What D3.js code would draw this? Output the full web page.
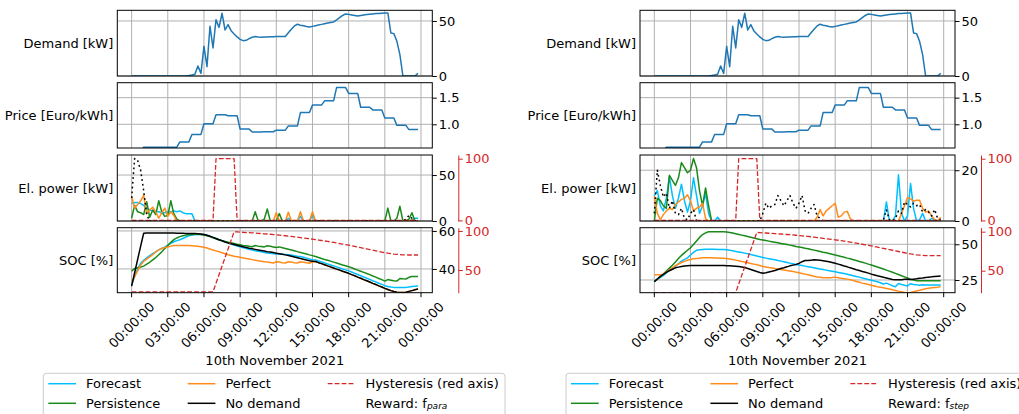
<!DOCTYPE html>
<html><head><meta charset="utf-8">
<script src="https://cdn.jsdelivr.net/npm/d3@7"></script>
<style>body{margin:0;background:#fff;overflow:hidden} text{font-family:"DejaVu Sans",sans-serif}</style>
</head><body><script>
// ---------- time axis ----------
const timeTickHours = [0,3,6,9,12,15,18,21,24];
const timeTickLabels = ['00:00:00','03:00:00','06:00:00','09:00:00','12:00:00','15:00:00','18:00:00','21:00:00','00:00:00'];
const dateLabel = '10th November 2021';

// ---------- shared series (15 min steps, 96 values) ----------
const demand = [
 0,0,0,0,0,0,0,0,0,0,0,0,
 0,0,0,0,0,0,0.2,0.5,0.9,1.6,9.1,2.4,
 27,8.5,45.2,25.5,51.2,44.2,57,41.8,46.7,41.2,38.2,35.5,
 33.3,32.1,32.4,33.9,35.2,35.8,35.4,35.3,35.4,35.5,35.6,35.7,
 35.8,35.8,35.8,35.9,39.3,42.5,45.5,47,46.2,45.6,45,44.5,
 45.1,45.7,46.3,46.9,47.5,48.1,48.6,49.1,51,53,55,56.4,
 56,55.5,55,54.5,55,55.4,55.8,56.1,56.4,56.7,56.9,57.1,
 57.2,57.3,39.1,38.5,31.5,19.4,0,0,0,0,0,2.4];

const price = [
 0.51,0.51,0.51,0.51, 0.57,0.57,0.57,0.57,
 0.57,0.57,0.57,0.57, 0.57,0.57,0.57,0.57,
 0.67,0.67,0.67,0.67, 0.81,0.81,0.81,0.81,
 1.01,1.01,1.01,1.01, 1.18,1.18,1.18,1.18,
 1.16,1.16,1.16,1.16, 0.91,0.91,0.91,0.91,
 0.855,0.855,0.855,0.855, 0.86,0.86,0.86,0.86,
 0.89,0.89,0.89,0.89, 0.97,0.97,0.97,0.97,
 1.22,1.22,1.22,1.22, 1.36,1.36,1.36,1.36,
 1.44,1.44,1.44,1.44, 1.69,1.69,1.69,1.69,
 1.58,1.58,1.58,1.58, 1.32,1.32,1.32,1.32,
 1.27,1.27,1.27,1.27, 1.12,1.12,1.12,1.12,
 0.98,0.98,0.98,0.98, 0.90,0.90,0.90,0.90];

const hysteresisPower = [
 0,0,0,0,0,0,0,0,0,0,0,0,
 0,0,0,0,0,0,0,0,0,0,0,0,
 0,0,0,0,100,100,100,100,100,100,100,0,
 0,0,0,0,0,0,0,0,0,0,0,0,
 0,0,0,0,0,0,0,0,0,0,0,0,
 0,0,0,0,0,0,0,0,0,0,0,0,
 0,0,0,0,0,0,0,0,0,0,0,0,
 0,0,0,0,0,0,0,0,0,0,0,0];

const hysteresisSOC = [
 22,22,22,22,22,22,22,22,22,22,22,22,
 22,22,22,22,22,22,22,22,22,22,22,22,
 22,22,22,22,33,44,55,66,77,88,99,98.8,
 98.5,98.3,98,97.8,97.6,97.3,97,96.7,96.4,96.1,95.8,95.4,
 95,94.6,94.2,93.9,93.5,93,92.5,92,91.5,91,90.5,90,
 89.5,89,88.4,87.8,87.2,86.6,86,85.3,84.6,83.9,83.2,82.5,
 81.8,81,80.2,79.4,78.6,77.8,77,76.2,75.4,74.6,73.8,73,
 72.2,71.5,71,70.4,70,69.7,69.4,69.3,69.2,69.2,69.2,69.2];

// ---------- left chart (reward f_para) ----------
const leftPowForecast = [
 19,20,20,19,17,14,12,11,10,10,9,9,
 10,10,11,10,11,9,8,8,8,0,0,0,
 0,0,0,0,0,0,0,0,0,0,0,0,
 0,0,0,0,0,0,0,0,0,0,0,0,
 0,0,0,0,3,0,0,0,5,0,0,0,
 6,0,0,0,0,0,0,0,0,0,0,0,
 0,0,0,0,0,0,0,0,0,0,0,0,
 0,0,0,0,0,0,0,0,0,1,3,3];
const leftPowPersistence = [
 3,17,10,9,7,21,4,12,7,22,10,5,
 6,22,8,2,0,0,0,0,0,0,0,0,
 0,0,0,0,0,0,0,0,0,0,0,0,
 0,0,0,0,0,10,0,0,2,13,0,0,
 0,8,0,0,0,0,0,0,0,0,0,0,
 0,0,0,0,0,0,0,0,0,0,0,0,
 0,0,0,0,0,0,0,0,0,0,0,0,
 0,14,0,0,3,16,0,0,2,9,0,0];
const leftPowPerfect = [
 27,14,18,22,28,8,12,15,10,3,9,14,
 5,10,6,0,0,0,0,0,0,0,0,0,
 0,0,0,0,0,0,0,0,0,0,0,0,
 0,0,0,0,0,0,0,0,0,0,0,0,
 9,0,0,0,9.5,0,0,0,10,0,0,0,
 10,0,0,0,0,0,0,0,0,0,0,0,
 0,0,0,0,0,0,0,0,0,0,0,0,
 0,0,0,0,0,0,0,0,0,1,0,0];
const leftPowNoDemand = [
 25,68,66,55,33,7,0,0,0,0,0,0,
 0,0,0,0,0,0,0,0,0,0,0,0,
 0,0,0,0,0,0,0,0,0,0,0,0,
 0,0,0,0,0,0,0,0,0,0,0,0,
 0,0,0,0,0,0,0,0,0,0,0,0,
 0,0,0,0,0,0,0,0,0,0,0,0,
 0,0,0,0,0,0,0,0,0,0,0,0,
 0,0,0,0,0,0,0,2,6,3,0,0];

const leftSocForecast = [
 31.5,36,40,43,44.5,45.8,47,48,49,50,50.8,51.5,
 52.5,53.5,54.3,54.9,55.4,56,56.8,57.4,57.8,58,58.1,58.1,
 58,57.7,57.2,56.6,56,55.4,54.8,54.2,53.6,53.1,52.6,52.1,
 51.6,51.2,50.7,50.3,49.9,49.6,49.3,49,48.7,48.4,48.2,48,
 47.9,47.8,47.7,47.6,47.5,47.3,47,46.7,46.6,46.2,45.7,45.2,
 44.9,44.7,44.2,43.7,43.2,42.6,42.1,41.6,41.1,40.5,40,39.5,
 39,38.4,37.7,37.1,36.4,35.8,35.1,34.5,33.8,33.2,32.5,31.9,
 31.2,30.8,30.5,30.3,30.2,30.2,30.2,30.3,30.5,30.7,30.9,31.1];
const leftSocPersistence = [
 38.8,40.3,40.6,41,41.5,42.5,43.5,44.8,46,47.5,49,50.7,
 52.3,54,55.4,56.3,57,57.5,57.8,58,58.1,58.2,58.2,58.1,
 57.9,57.5,57,56.4,55.8,55.3,54.9,54.5,54.1,53.8,53.4,53,
 52.7,52.4,52.2,51.9,51.7,52.3,52,51.8,51.6,52.2,51.9,51.6,
 51.3,51.6,51.2,50.8,50.4,50,49.6,49.1,48.7,48.3,47.9,47.4,
 47,46.5,46,45.5,45,44.6,44.1,43.6,43.1,42.6,42.1,41.7,
 41.2,40.6,40,39.4,38.8,38.2,37.6,37,36.3,35.7,35,34.4,
 33.6,34.4,34.1,33.8,33.6,35,34.8,34.7,35.6,36,36,36];
const leftSocPerfect = [
 33,36,39,42,44,45.2,46.3,47.5,49,50,50.8,51.3,
 51.5,52,52.3,52.4,52.4,52.4,52.4,52.3,52.2,52.1,51.9,51.7,
 51.4,51,50.5,50,49.5,49,48.5,48,47.5,47.1,46.7,46.4,
 46.1,45.8,45.5,45.2,44.9,44.6,44.3,44.1,43.8,43.6,43.4,43.1,
 43.8,43.6,43.3,43.1,43.8,43.6,43.3,43.1,43.8,43.5,43.2,43,
 43.7,43.9,43.3,42.8,42.2,41.6,41.1,40.5,39.9,39.4,38.8,38.3,
 37.7,37,36.4,35.7,35.1,34.4,33.8,33.1,32.4,31.8,31.1,30.5,
 29.8,29.2,28.6,28.1,27.8,27.6,27.6,27.7,28.2,28.6,29.1,29.6];
const leftSocNoDemand = [
 31,38,45,52,58.8,58.9,58.9,58.9,58.9,58.9,58.9,58.9,
 58.9,58.9,58.9,58.8,58.8,58.8,58.7,58.7,58.6,58.6,58.5,58.4,
 58.1,57.7,57.2,56.6,56,55.4,54.8,54.2,53.7,53.3,52.9,52.5,
 52.1,51.7,51.3,50.9,50.6,50.3,50,49.7,49.4,49.1,48.9,48.6,
 48.3,48,47.7,47.4,47.1,46.7,46.3,45.9,45.5,45.1,44.7,44.3,
 44.1,43.9,43.3,42.8,42.2,41.6,41.1,40.5,39.9,39.4,38.8,38.3,
 37.7,37,36.4,35.7,35.1,34.4,33.8,33.1,32.4,31.8,31.1,30.5,
 29.8,29.2,28.6,28.1,27.8,27.6,27.6,27.7,28.2,28.6,29,29.4];

// ---------- right chart (reward f_step) ----------
const rightPowForecast = [
 10,12,6,4,9,17.5,10,5,9,14.5,8,3.5,
 8,17,10,3,6,11,3,0,0,1.5,0,0,
 0,0,0,0,0,0,0,0,0,0,0,0,
 0,0,0,0,0,0,0,0,0,0,0,0,
 0,0,0,0,0,0,0,0,0,0,0,0,
 0,0,0,0,0,0,0,0,0,0,0,0,
 0,0,0,0,0,7.5,0,0,2,18.2,3,0,
 2,14.8,5,0,0.5,3,0,0,1,0.5,0,0];
const rightPowPersistence = [
 0,9,8,6,5,18,16,14,17,23,21,19,
 20,24.6,21,12,6,13,6,0,0,0,0,0,
 0,0,0,0,0,0,0,0,0,0,0,0,
 0,0,0,0,0,0,0,0,0,0,0,0,
 0,0,0,0,0,0,0,0,0,0,0,0,
 0,0,0,0,0,0,0,0,0,0,0,0,
 0,0,0,0,0,0,0,0,0,0,0,0,
 0,0,0,0,0,0,0,0,0,0,0,0];
const rightPowPerfect = [
 9.8,3,0.5,2.5,4,5,4.5,6.5,7.5,8.5,9,10.3,
 8,4,5,5.5,7,1,0,0,0,0,0,0,
 0,0,0,0,0,0,0,0,0,0,0,0,
 0,0,0,0,0,0,0,0,0,0,0,0,
 0,0,0,0,0,0,1.5,4.5,2,4,5,6,
 7,1.5,2,3.5,3.8,1,0,0,0,0,0,0,
 0,0,0,0,0,0,0,0,0,0,3,6,
 9.3,8.7,7.8,8.2,8.2,5,3.5,4,2,0.5,0,1.5];
const rightPowNoDemand = [
 3,20,14,9.5,11,5,8,3,2.5,5,1,0.5,
 3,4.5,0,0,0,0,0,0,0,0,0,0,
 0,0,0,0,0,0,0,0,0,0,0,0,
 3,7,5,6,6.5,10,8,6,8,10,7,5,
 7,10,4,3,5,6.5,2,1,0,0,0,0,
 0,0,0,0,0,0,0,0,0,0,0,0,
 0,0,0,0,0.5,4.3,0.5,0,1,4,3,7.5,
 6.5,5.5,7,6,6.5,3.5,4.5,3.5,2,4.5,1,0.5];

const rightSocForecast = [
 24,25.5,26.8,28,30,32,33.3,34.6,36.3,38.2,39.4,40.5,
 42.5,44.3,45.8,46.2,46.4,46.5,46.5,46.5,46.5,46.4,46.4,46.3,
 46.1,45.8,45.4,45,44.6,44.2,43.8,43.3,42.8,42.3,41.8,41.3,
 40.8,40.3,39.9,39.5,39.1,38.6,38.2,37.8,37.3,36.8,36.4,35.9,
 35.5,35.1,34.7,34.3,33.9,33.5,33.1,32.7,32.3,31.9,31.5,31.1,
 30.7,30.3,29.9,29.5,29,28.5,28,27.5,27,26.4,25.9,25.3,
 24.8,24.3,23.8,23.1,22.2,22.8,21.9,21,20.3,22.6,21.9,21.3,
 20.8,22.4,21.9,21.6,21.4,21.6,21.5,21.5,21.5,21.5,21.5,21.5];
const rightSocPersistence = [
 23.8,25.5,27.3,29.2,31.3,33.3,35.3,37.6,40,42.2,44,45.8,
 47.5,49.8,52.3,54.8,56.8,58,58.8,58.8,58.8,58.8,58.7,58.7,
 58.6,58.3,57.9,57.4,56.9,56.4,55.9,55.4,54.9,54.4,53.9,53.4,
 53,52.6,52.2,51.8,51.4,51,50.6,50.2,49.8,49.4,49,48.5,
 48.1,47.7,47.2,46.8,46.3,45.9,45.4,44.9,44.4,44,43.5,43,
 42.5,42,41.4,40.9,40.3,39.8,39.2,38.6,38,37.4,36.8,36.1,
 35.5,34.8,34.1,33.4,32.7,31.9,31.2,30.4,29.6,28.8,28,27.2,
 26.4,25.6,24.9,24.5,24.5,24.5,24.5,24.5,24.5,24.5,24.5,24.5];
const rightSocPerfect = [
 28.5,28.7,28.6,29,30.5,32,33.5,35,36.2,37.2,38,38.8,
 39.4,39.8,40.1,40.3,40.5,40.5,40.5,40.5,40.4,40.4,40.3,40.2,
 40,39.7,39.3,38.9,38.5,38,37.6,37.1,36.6,36.1,35.6,35.1,
 34.5,34.1,33.7,33.4,33,32.7,32.3,32,31.6,31.3,30.9,30.5,
 30.1,29.6,29.1,28.6,28.1,27.6,27.1,26.9,26.6,26.5,26.5,26.7,
 27,26.6,26.2,25.9,25.6,25.2,24.6,24,23.4,22.8,22.3,21.8,
 21.3,20.8,20.3,19.9,19.5,19.1,18.7,18.2,17.7,17.2,16.8,16.3,
 16.1,16.3,16.8,17.3,17.8,18.4,18.9,19.2,19.5,19.8,20,20.3];
const rightSocNoDemand = [
 23.8,25.8,27.5,29,30.3,31.5,32.5,33.5,34,34.5,34.8,35,
 35.1,35.2,35.2,35.2,35.2,35.2,35.2,35.2,35.2,35.2,35.1,35.1,
 35,34.9,34.8,34.6,34.4,34.1,33.7,33.1,32.4,31.7,31,30.3,
 29.7,30.1,30.6,31.1,31.7,32.4,33.1,33.6,34.2,34.9,35.4,35.8,
 36.6,37.8,38.6,38.7,38.9,39.1,39,38.8,38.5,38.1,37.7,37.2,
 36.7,36.1,35.5,34.8,34.2,33.5,32.9,32.2,31.6,31,30.4,29.8,
 29.1,28.5,27.9,27.4,26.9,26.4,25.9,25.4,25.1,25.2,25.1,25.5,
 25.6,25.4,25.6,25.8,26.2,26.4,26.7,27,27.2,27.5,27.7,27.8];

// ---------- legend ----------
const legendLabels = ['Forecast','Persistence','Perfect','No demand','Hysteresis (red axis)'];

// ---------- drawing ----------
const W = 1019, H = 414, AXW = 315, FS = 13;
const RED = '#d62728';
const COL = {forecast:'#00bfff', persistence:'#1a8a1a', perfect:'#ff8c1a', nodemand:'#000000', blue:'#1f77b4'};
const PAN = {demand:[10.3,76], price:[82.7,148], power:[155,221], soc:[227.7,292.7]};
const svg = d3.select('body').append('svg').attr('width', W).attr('height', H);
const defs = svg.append('defs');

function chart(cfg) {
  const x0 = cfg.x0;
  const x = d3.scaleLinear().domain([-1.1875, 24.9375]).range([x0, x0 + AXW]);
  const g = svg.append('g');

  function panel(name, dom, ticks, fmt, label) {
    const [top, bot] = PAN[name];
    const y = d3.scaleLinear().domain(dom).range([bot, top]);
    const pg = g.append('g');
    const cid = 'clip-' + cfg.id + '-' + name;
    defs.append('clipPath').attr('id', cid).append('rect')
      .attr('x', x0).attr('y', top).attr('width', AXW).attr('height', bot - top);
    pg.selectAll('line.vg').data(timeTickHours).join('line').attr('class','vg')
      .attr('x1', d => x(d)).attr('x2', d => x(d)).attr('y1', top).attr('y2', bot)
      .attr('stroke', '#b0b0b0').attr('stroke-width', 1);
    pg.selectAll('line.hg').data(ticks).join('line').attr('class','hg')
      .attr('x1', x0).attr('x2', x0 + AXW).attr('y1', d => y(d)).attr('y2', d => y(d))
      .attr('stroke', '#b0b0b0').attr('stroke-width', 1);
    const lines = pg.append('g').attr('clip-path', 'url(#' + cid + ')');
    const ax = d3.axisRight(y).tickValues(ticks).tickFormat(fmt).tickSize(4.5).tickPadding(2).tickSizeOuter(0);
    const ag = pg.append('g').attr('transform', 'translate(' + (x0 + AXW) + ',0)').call(ax);
    ag.select('.domain').remove();
    ag.attr('font-size', FS).attr('font-family', '"DejaVu Sans",sans-serif');
    ag.selectAll('line').attr('stroke', '#000').attr('stroke-width', 1);
    ag.selectAll('text').attr('fill', '#000');
    pg.append('text').attr('x', x0 - 4).attr('y', (top + bot) / 2).attr('text-anchor', 'end')
      .attr('dominant-baseline', 'central').attr('font-size', FS).attr('fill', '#000').text(label);
    const frame = pg.append('rect').attr('x', x0).attr('y', top).attr('width', AXW).attr('height', bot - top)
      .attr('fill', 'none').attr('stroke', '#000').attr('stroke-width', 1);
    return {y, lines, pg, top, bot, cid, frame};
  }

  function redAxis(p, dom, ticks) {
    const y2 = d3.scaleLinear().domain(dom).range([p.bot, p.top]);
    const ax = d3.axisRight(y2).tickValues(ticks).tickSize(4.5).tickPadding(2).tickSizeOuter(0);
    const ag = p.pg.append('g').attr('transform', 'translate(' + (x0 + AXW + 26) + ',0)').call(ax);
    ag.attr('font-size', FS).attr('font-family', '"DejaVu Sans",sans-serif');
    ag.select('.domain').attr('stroke', RED).attr('stroke-width', 1);
    ag.selectAll('line').attr('stroke', RED).attr('stroke-width', 1);
    ag.selectAll('text').attr('fill', RED);
    return y2;
  }

  function draw(p, yScale, data, color, width, dash) {
    const line = d3.line().x((d, i) => x(i / 4)).y(d => yScale(d));
    const path = p.lines.append('path').datum(data).attr('d', line).attr('fill', 'none')
      .attr('stroke', color).attr('stroke-width', width).attr('stroke-linejoin', 'round');
    if (dash) path.attr('stroke-dasharray', dash);
  }

  // demand
  const pd = panel('demand', [0, 59.7], [0, 50], d3.format('d'), 'Demand [kW]');
  draw(pd, pd.y, demand, COL.blue, 1.5);
  pd.frame.raise();
  // price
  const pp = panel('price', [0.555, 1.781], [1.0, 1.5], d3.format('.1f'), 'Price [Euro/kWh]');
  draw(pp, pp.y, price, COL.blue, 1.5);
  pp.frame.raise();
  // power
  const pw = panel('power', cfg.powDom, cfg.powTicks, d3.format('d'), 'El. power [kW]');
  draw(pw, pw.y, cfg.pow[0], COL.forecast, 1.5);
  draw(pw, pw.y, cfg.pow[1], COL.persistence, 1.5);
  draw(pw, pw.y, cfg.pow[2], COL.perfect, 1.5);
  draw(pw, pw.y, cfg.pow[3], COL.nodemand, 1.5, '1.8,3');
  const yrp = redAxis(pw, [-1, 106], [0, 100]);
  draw(pw, yrp, hysteresisPower, RED, 1.3, '4.85,2.1');
  pw.frame.raise();
  // soc
  const ps = panel('soc', cfg.socDom, cfg.socTicks, d3.format('d'), 'SOC [%]');
  draw(ps, ps.y, cfg.soc[0], COL.forecast, 1.5);
  draw(ps, ps.y, cfg.soc[1], COL.persistence, 1.5);
  draw(ps, ps.y, cfg.soc[2], COL.perfect, 1.5);
  draw(ps, ps.y, cfg.soc[3], COL.nodemand, 1.5);
  const yrs = redAxis(ps, cfg.socRedDom, [50, 100]);
  draw(ps, yrs, hysteresisSOC, RED, 1.3, '4.85,2.1');
  ps.frame.raise();

  // x axis ticks and rotated labels
  const xb = PAN.soc[1];
  g.selectAll('line.xt').data(timeTickHours).join('line').attr('class','xt')
    .attr('x1', d => x(d)).attr('x2', d => x(d)).attr('y1', xb).attr('y2', xb + 4.5)
    .attr('stroke', '#000').attr('stroke-width', 1);
  g.selectAll('text.xl').data(timeTickHours).join('text').attr('class','xl')
    .attr('transform', (d) => 'translate(' + x(d) + ',325) rotate(-45)')
    .attr('text-anchor', 'middle').attr('dominant-baseline', 'central')
    .attr('font-size', FS).attr('fill', '#000')
    .text((d, i) => timeTickLabels[i]);
  g.append('text').attr('x', x0 + AXW / 2).attr('y', 360.7).attr('text-anchor', 'middle')
    .attr('dominant-baseline', 'central').attr('font-size', FS).attr('fill', '#000').text(dateLabel);

  // legend
  const lx = x0 - 74;
  const lg = g.append('g');
  lg.append('rect').attr('x', lx).attr('y', 373.3).attr('width', 461.7).attr('height', 46)
    .attr('rx', 3).attr('fill', '#fff').attr('stroke', '#cccccc').attr('stroke-width', 1);
  const items = [
    {c: 0, r: 0, label: legendLabels[0], color: COL.forecast},
    {c: 0, r: 1, label: legendLabels[1], color: COL.persistence},
    {c: 1, r: 0, label: legendLabels[2], color: COL.perfect},
    {c: 1, r: 1, label: legendLabels[3], color: COL.nodemand},
    {c: 2, r: 0, label: legendLabels[4], color: RED, dash: '4.85,2.1'}
  ];
  const colX = [lx + 5, lx + 144.4, lx + 284.4];
  const rowY = [383.7, 403.3];
  items.forEach(it => {
    const l = lg.append('line').attr('x1', colX[it.c]).attr('x2', colX[it.c] + 27.7)
      .attr('y1', rowY[it.r]).attr('y2', rowY[it.r]).attr('stroke', it.color).attr('stroke-width', 1.5);
    if (it.dash) l.attr('stroke-dasharray', it.dash).attr('stroke-width', 1.3);
    lg.append('text').attr('x', colX[it.c] + 37.7).attr('y', rowY[it.r]).attr('dominant-baseline', 'central')
      .attr('font-size', FS).attr('fill', '#000').text(it.label);
  });
  const rt = lg.append('text').attr('x', colX[2] + 37.7).attr('y', rowY[1]).attr('dominant-baseline', 'central')
    .attr('font-size', FS).attr('fill', '#000');
  rt.append('tspan').text('Reward: f');
  rt.append('tspan').attr('font-size', 9).attr('font-style', 'italic').attr('dy', 3).text(cfg.reward);
}

chart({id: 'L', x0: 117.3, reward: 'para',
  powDom: [0, 71.8], powTicks: [0, 50],
  pow: [leftPowForecast, leftPowPersistence, leftPowPerfect, leftPowNoDemand],
  socDom: [27.5, 61.7], socTicks: [40, 60], socRedDom: [20.9, 104.2],
  soc: [leftSocForecast, leftSocPersistence, leftSocPerfect, leftSocNoDemand]});
chart({id: 'R', x0: 640, reward: 'step',
  powDom: [0, 26], powTicks: [0, 20],
  pow: [rightPowForecast, rightPowPersistence, rightPowPerfect, rightPowNoDemand],
  socDom: [16.1, 61.6], socTicks: [25, 50], socRedDom: [21.8, 105.1],
  soc: [rightSocForecast, rightSocPersistence, rightSocPerfect, rightSocNoDemand]});
</script></body></html>
